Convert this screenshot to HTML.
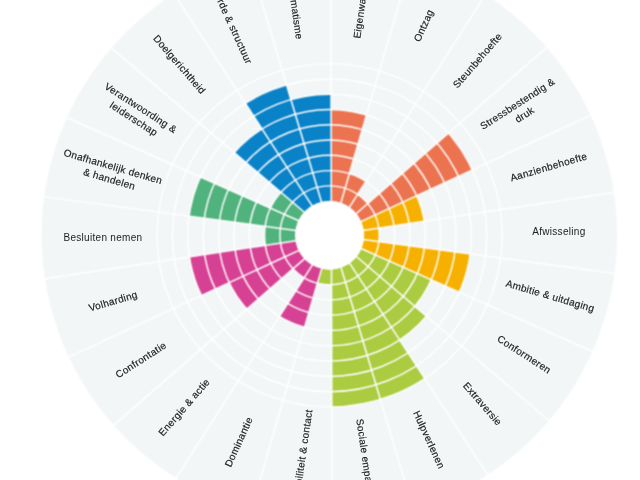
<!DOCTYPE html>
<html><head><meta charset="utf-8"><style>
html,body{margin:0;padding:0;background:#fff;width:640px;height:480px;overflow:hidden}
svg{display:block}
text{font-family:"Liberation Sans",sans-serif;font-size:10px;fill:#222222;stroke:#222222;stroke-width:0.18px;letter-spacing:0.3px;text-anchor:middle;dominant-baseline:central}
</style></head><body>
<svg width="640" height="480" viewBox="0 0 640 480"><defs><filter id="bl" x="0" y="0" width="640" height="480" filterUnits="userSpaceOnUse" color-interpolation-filters="sRGB"><feConvolveMatrix order="3" kernelMatrix="1 2 1 2 4 2 1 2 1" divisor="16" edgeMode="duplicate"/></filter></defs>
<g filter="url(#bl)"><ellipse cx="329.3" cy="235.3" rx="287.7" ry="286.84" fill="#f2f6f7"/><g transform="matrix(1,0,0,0.995,0,1.1765)">
<path d="M331.32,201.04 L331.11,108.85 A126.46,126.46 0 0 1 366.54,114.36 L340.82,202.89 A34.30,34.30 0 0 0 331.32,201.04 Z" fill="#ec7350"/>
<path d="M340.82,202.89 L349.40,173.37 A65.02,65.02 0 0 1 365.80,181.29 L349.29,207.21 A34.30,34.30 0 0 0 340.82,202.89 Z" fill="#ec7350"/>
<path d="M349.29,207.21 L357.54,194.25 A49.66,49.66 0 0 1 367.71,203.46 L356.16,213.59 A34.30,34.30 0 0 0 349.29,207.21 Z" fill="#ec7350"/>
<path d="M356.16,213.59 L448.55,132.56 A157.18,157.18 0 0 1 472.40,169.61 L361.00,221.51 A34.30,34.30 0 0 0 356.16,213.59 Z" fill="#ec7350"/>
<path d="M361.00,221.51 L416.70,195.56 A95.74,95.74 0 0 1 424.29,221.13 L363.55,230.40 A34.30,34.30 0 0 0 361.00,221.51 Z" fill="#f6b000"/>
<path d="M363.55,230.40 L378.73,228.08 A49.66,49.66 0 0 1 378.85,241.71 L363.62,239.65 A34.30,34.30 0 0 0 363.55,230.40 Z" fill="#f6b000"/>
<path d="M363.62,239.65 L470.18,254.03 A141.82,141.82 0 0 1 459.35,292.55 L361.20,248.63 A34.30,34.30 0 0 0 363.62,239.65 Z" fill="#f6b000"/>
<path d="M361.20,248.63 L431.31,280.00 A111.10,111.10 0 0 1 414.76,306.65 L356.40,256.70 A34.30,34.30 0 0 0 361.20,248.63 Z" fill="#abcb40"/>
<path d="M356.40,256.70 L426.43,316.64 A126.46,126.46 0 0 1 399.68,340.57 L349.51,263.23 A34.30,34.30 0 0 0 356.40,256.70 Z" fill="#abcb40"/>
<path d="M349.51,263.23 L424.76,379.23 A172.54,172.54 0 0 1 380.33,400.21 L341.00,267.65 A34.30,34.30 0 0 0 349.51,263.23 Z" fill="#abcb40"/>
<path d="M341.00,267.65 L380.33,400.21 A172.54,172.54 0 0 1 331.80,407.83 L331.48,269.55 A34.30,34.30 0 0 0 341.00,267.65 Z" fill="#abcb40"/>
<path d="M331.48,269.55 L331.52,284.92 A49.66,49.66 0 0 1 317.41,283.44 L321.70,268.68 A34.30,34.30 0 0 0 331.48,269.55 Z" fill="#abcb40"/>
<path d="M321.70,268.68 L304.55,327.70 A95.74,95.74 0 0 1 279.46,316.86 L312.47,265.02 A34.30,34.30 0 0 0 321.70,268.68 Z" fill="#d64193"/>
<path d="M312.47,265.02 L304.22,277.98 A49.66,49.66 0 0 1 293.06,268.93 L304.61,258.79 A34.30,34.30 0 0 0 312.47,265.02 Z" fill="#d64193"/>
<path d="M304.61,258.79 L246.86,309.44 A111.10,111.10 0 0 1 229.22,282.91 L298.84,250.47 A34.30,34.30 0 0 0 304.61,258.79 Z" fill="#d64193"/>
<path d="M298.84,250.47 L201.37,295.88 A141.82,141.82 0 0 1 189.44,256.96 L295.73,240.74 A34.30,34.30 0 0 0 298.84,250.47 Z" fill="#d64193"/>
<path d="M295.73,240.74 L265.37,245.37 A65.02,65.02 0 0 1 265.20,226.36 L295.64,230.47 A34.30,34.30 0 0 0 295.73,240.74 Z" fill="#50b27c"/>
<path d="M295.64,230.47 L189.09,216.09 A141.82,141.82 0 0 1 200.45,176.71 L298.60,220.62 A34.30,34.30 0 0 0 295.64,230.47 Z" fill="#50b27c"/>
<path d="M298.60,220.62 L270.55,208.07 A65.02,65.02 0 0 1 280.97,192.14 L304.32,212.12 A34.30,34.30 0 0 0 298.60,220.62 Z" fill="#50b27c"/>
<path d="M304.32,212.12 L234.30,152.18 A126.46,126.46 0 0 1 262.05,128.39 L312.22,205.73 A34.30,34.30 0 0 0 304.32,212.12 Z" fill="#0a82c7"/>
<path d="M312.22,205.73 L245.33,102.62 A157.18,157.18 0 0 1 286.54,84.13 L321.51,201.97 A34.30,34.30 0 0 0 312.22,205.73 Z" fill="#0a82c7"/>
<path d="M321.51,201.97 L290.91,98.86 A141.82,141.82 0 0 1 331.07,93.49 L331.32,201.04 A34.30,34.30 0 0 0 321.51,201.97 Z" fill="#0a82c7"/>
<circle cx="329.6" cy="235.3" r="49.66" fill="none" stroke="#fff" stroke-width="1.45"/>
<circle cx="329.6" cy="235.3" r="65.02" fill="none" stroke="#fff" stroke-width="1.45"/>
<circle cx="329.6" cy="235.3" r="80.38" fill="none" stroke="#fff" stroke-width="1.45"/>
<circle cx="329.6" cy="235.3" r="95.74" fill="none" stroke="#fff" stroke-width="1.45"/>
<circle cx="329.6" cy="235.3" r="111.10" fill="none" stroke="#fff" stroke-width="1.45"/>
<circle cx="329.6" cy="235.3" r="126.46" fill="none" stroke="#fff" stroke-width="1.45"/>
<circle cx="329.6" cy="235.3" r="141.82" fill="none" stroke="#fff" stroke-width="1.45"/>
<circle cx="329.6" cy="235.3" r="157.18" fill="none" stroke="#fff" stroke-width="1.45"/>
<circle cx="329.6" cy="235.3" r="172.54" fill="none" stroke="#fff" stroke-width="1.45"/>
<line x1="331.32" y1="203.05" x2="330.72" y2="-55.40" stroke="#fff" stroke-width="1.5"/>
<line x1="340.26" y1="204.81" x2="412.37" y2="-43.37" stroke="#fff" stroke-width="1.5"/>
<line x1="348.21" y1="208.90" x2="487.02" y2="-9.09" stroke="#fff" stroke-width="1.5"/>
<line x1="354.65" y1="214.91" x2="548.94" y2="44.53" stroke="#fff" stroke-width="1.5"/>
<line x1="359.19" y1="222.35" x2="593.43" y2="113.23" stroke="#fff" stroke-width="1.5"/>
<line x1="361.57" y1="230.70" x2="617.02" y2="191.73" stroke="#fff" stroke-width="1.5"/>
<line x1="361.64" y1="239.38" x2="617.72" y2="273.95" stroke="#fff" stroke-width="1.5"/>
<line x1="359.38" y1="247.82" x2="595.25" y2="353.36" stroke="#fff" stroke-width="1.5"/>
<line x1="354.88" y1="255.40" x2="551.20" y2="423.45" stroke="#fff" stroke-width="1.5"/>
<line x1="348.43" y1="261.55" x2="489.06" y2="478.36" stroke="#fff" stroke-width="1.5"/>
<line x1="340.43" y1="265.73" x2="413.95" y2="513.49" stroke="#fff" stroke-width="1.5"/>
<line x1="331.48" y1="267.55" x2="332.08" y2="525.99" stroke="#fff" stroke-width="1.5"/>
<line x1="322.26" y1="266.75" x2="250.15" y2="514.93" stroke="#fff" stroke-width="1.5"/>
<line x1="313.55" y1="263.33" x2="174.74" y2="481.32" stroke="#fff" stroke-width="1.5"/>
<line x1="306.11" y1="257.47" x2="111.82" y2="427.86" stroke="#fff" stroke-width="1.5"/>
<line x1="300.65" y1="249.63" x2="66.42" y2="358.75" stroke="#fff" stroke-width="1.5"/>
<line x1="297.71" y1="240.44" x2="42.27" y2="279.41" stroke="#fff" stroke-width="1.5"/>
<line x1="297.62" y1="230.74" x2="41.55" y2="196.17" stroke="#fff" stroke-width="1.5"/>
<line x1="300.42" y1="221.44" x2="64.55" y2="115.90" stroke="#fff" stroke-width="1.5"/>
<line x1="305.84" y1="213.42" x2="109.52" y2="45.37" stroke="#fff" stroke-width="1.5"/>
<line x1="313.31" y1="207.41" x2="172.67" y2="-9.40" stroke="#fff" stroke-width="1.5"/>
<line x1="322.08" y1="203.89" x2="248.56" y2="-43.88" stroke="#fff" stroke-width="1.5"/>
<circle cx="329.6" cy="235.3" r="34.599999999999994" fill="#fff"/>
</g></g>
<g style="opacity:0.999">
<text transform="translate(360.59,7.74) rotate(-81.82)"><tspan x="0" y="0.00">Eigenwaarde</tspan></text>
<text transform="translate(423.07,25.26) rotate(-65.45)"><tspan x="0" y="0.00">Ontzag</tspan></text>
<text transform="translate(477.09,60.08) rotate(-49.09)"><tspan x="0" y="0.00">Steunbehoefte</tspan></text>
<text transform="translate(520.69,108.70) rotate(-32.73)"><tspan x="0" y="-6.50">Stressbestendig &</tspan><tspan x="0" y="6.50">druk</tspan></text>
<text transform="translate(548.46,166.40) rotate(-16.36)"><tspan x="0" y="0.00">Aanzienbehoefte</tspan></text>
<text style="stroke-width:0" transform="translate(558.88,231.01) rotate(0.00)"><tspan x="0" y="0.00">Afwisseling</tspan></text>
<text transform="translate(550.43,295.36) rotate(16.36)"><tspan x="0" y="0.00">Ambitie &amp; uitdaging</tspan></text>
<text transform="translate(524.50,353.91) rotate(32.73)"><tspan x="0" y="0.00">Conformeren</tspan></text>
<text transform="translate(483.00,403.47) rotate(49.09)"><tspan x="0" y="0.00">Extraversie</tspan></text>
<text transform="translate(429.54,439.42) rotate(65.45)"><tspan x="0" y="0.00">Hulpverlenen</tspan></text>
<text transform="translate(366.10,459.07) rotate(81.82)"><tspan x="0" y="0.00">Sociale empathie</tspan></text>
<text transform="translate(301.21,459.86) rotate(-81.82)"><tspan x="0" y="0.00">Sociabiliteit &amp; contact</tspan></text>
<text transform="translate(238.23,441.74) rotate(-65.45)"><tspan x="0" y="0.00">Dominantie</tspan></text>
<text transform="translate(183.71,406.92) rotate(-49.09)"><tspan x="0" y="0.00">Energie &amp; actie</tspan></text>
<text transform="translate(140.61,359.40) rotate(-32.73)"><tspan x="0" y="0.00">Confrontatie</tspan></text>
<text transform="translate(112.94,300.70) rotate(-16.36)"><tspan x="0" y="0.00">Volharding</tspan></text>
<text style="stroke-width:0" transform="translate(102.92,236.59) rotate(0.00)"><tspan x="0" y="0.00">Besluiten nemen</tspan></text>
<text transform="translate(111.37,172.24) rotate(16.36)"><tspan x="0" y="-6.50">Onafhankelijk denken</tspan><tspan x="0" y="6.50">&amp; handelen</tspan></text>
<text transform="translate(137.60,112.89) rotate(32.73)"><tspan x="0" y="-6.50">Verantwoording &amp;</tspan><tspan x="0" y="6.50">leiderschap</tspan></text>
<text transform="translate(180.00,64.13) rotate(49.09)"><tspan x="0" y="0.00">Doelgerichtheid</tspan></text>
<text transform="translate(233.66,27.58) rotate(65.45)"><tspan x="0" y="0.00">Orde &amp; structuur</tspan></text>
<text transform="translate(295.70,8.53) rotate(81.82)"><tspan x="0" y="0.00">Pragmatisme</tspan></text>
</g>
</svg>
</body></html>
